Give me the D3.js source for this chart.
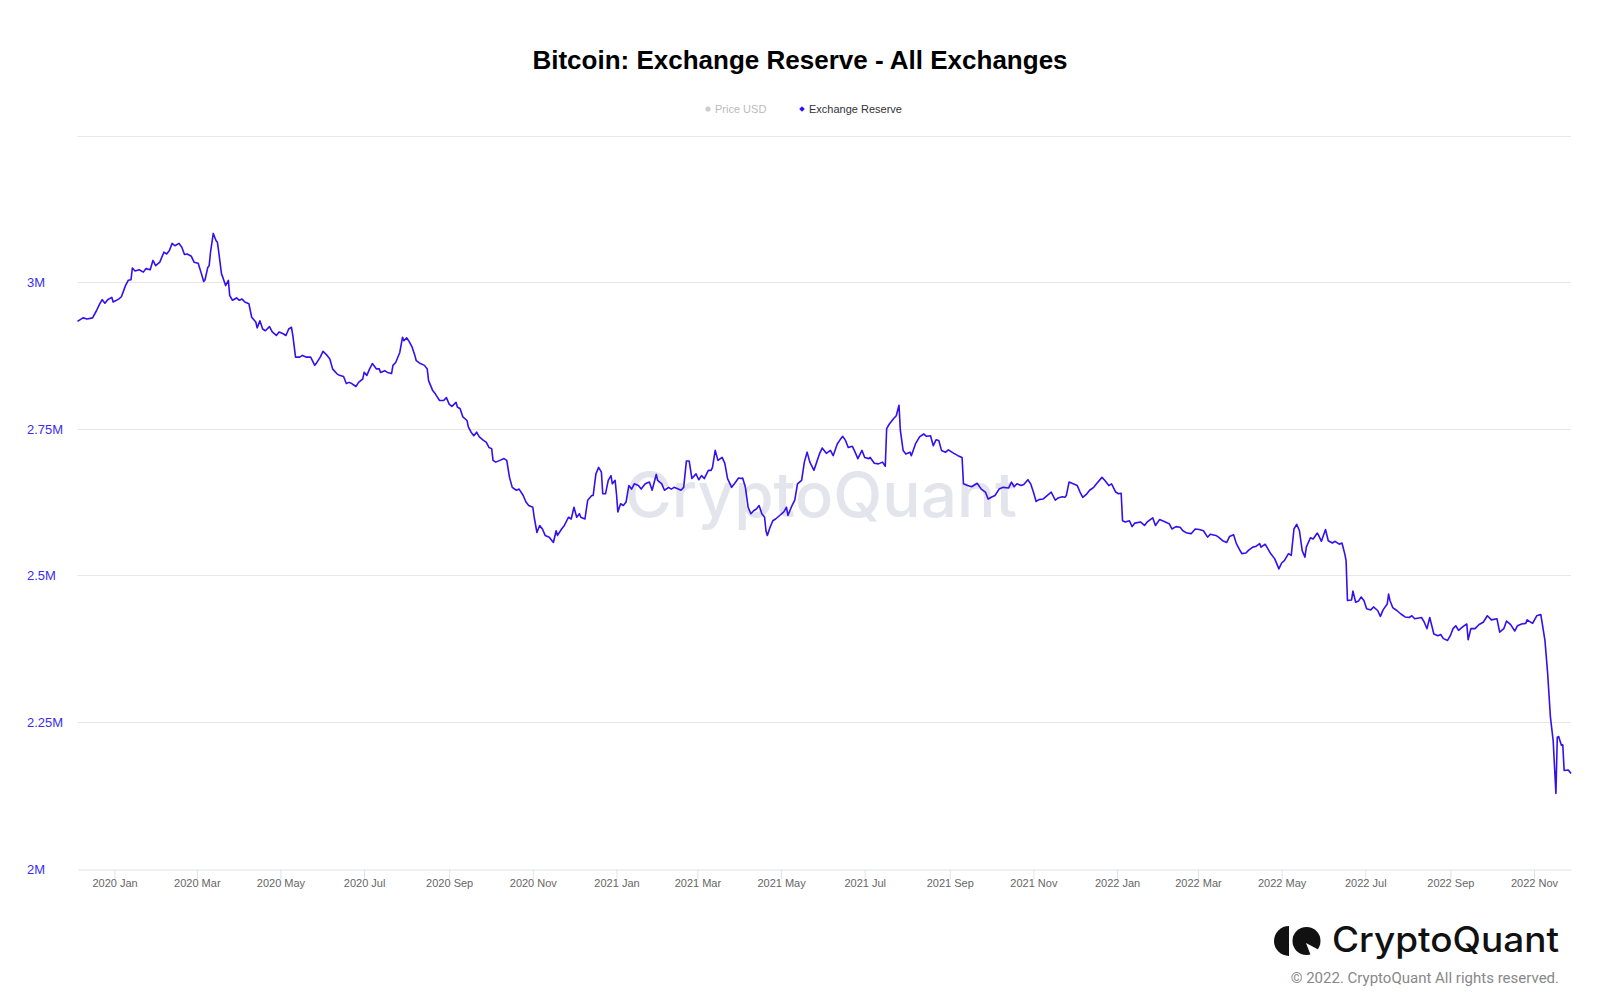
<!DOCTYPE html>
<html>
<head>
<meta charset="utf-8">
<script src="https://cdn.jsdelivr.net/npm/d3@7"></script>
<style>
	body { margin: 0; background: #fff; }
	svg { display: block; font-family: "Liberation Sans", Arial, Helvetica, sans-serif; }
</style>
</head>
<body>
<svg id="chart" width="1600" height="1008"></svg>
<script>
const width = 1600;
const height = 1008;
const margin = {
	top: 135.5,
	right: 29,
	bottom: 139.5,
	left: 77.5
};

// roughly every 2-3 days
const dates = [
	"2019-12-05", "2019-12-09", "2019-12-12", "2019-12-16", "2019-12-19", "2019-12-21", "2019-12-23", "2019-12-25", "2019-12-27", "2019-12-30", "2019-12-31",
	"2020-01-04", "2020-01-06", "2020-01-09", "2020-01-11", "2020-01-13", "2020-01-14", "2020-01-16", "2020-01-19", "2020-01-22", "2020-01-24", "2020-01-27", "2020-01-29", "2020-01-31",
	"2020-02-03", "2020-02-06", "2020-02-08", "2020-02-10", "2020-02-12", "2020-02-14", "2020-02-17", "2020-02-19", "2020-02-21", "2020-02-23", "2020-02-26", "2020-02-28",
	"2020-03-02", "2020-03-04", "2020-03-06", "2020-03-07", "2020-03-09", "2020-03-10", "2020-03-11", "2020-03-13", "2020-03-15", "2020-03-16", "2020-03-17", "2020-03-19", "2020-03-20", "2020-03-22", "2020-03-24", "2020-03-25", "2020-03-27", "2020-03-30",
	"2020-04-01", "2020-04-03", "2020-04-05", "2020-04-08", "2020-04-10", "2020-04-13", "2020-04-14", "2020-04-16", "2020-04-18", "2020-04-20", "2020-04-23", "2020-04-25", "2020-04-28", "2020-04-30",
	"2020-05-03", "2020-05-05", "2020-05-07", "2020-05-09", "2020-05-10", "2020-05-12", "2020-05-15", "2020-05-17", "2020-05-20", "2020-05-23", "2020-05-26", "2020-05-27", "2020-05-30",
	"2020-06-01", "2020-06-04", "2020-06-06", "2020-06-08", "2020-06-11", "2020-06-13", "2020-06-16", "2020-06-18", "2020-06-20", "2020-06-22", "2020-06-25", "2020-06-27", "2020-06-30",
	"2020-07-01", "2020-07-03", "2020-07-05", "2020-07-07", "2020-07-10", "2020-07-12", "2020-07-13", "2020-07-16", "2020-07-18", "2020-07-21", "2020-07-22", "2020-07-24", "2020-07-27", "2020-07-29", "2020-07-30",
	"2020-08-01", "2020-08-03", "2020-08-05", "2020-08-07", "2020-08-08", "2020-08-11", "2020-08-14", "2020-08-16", "2020-08-17", "2020-08-20", "2020-08-22", "2020-08-25", "2020-08-28", "2020-08-30",
	"2020-09-01", "2020-09-03", "2020-09-06", "2020-09-07", "2020-09-09", "2020-09-11", "2020-09-14", "2020-09-15", "2020-09-17", "2020-09-19", "2020-09-21", "2020-09-23", "2020-09-26", "2020-09-28", "2020-09-30",
	"2020-10-02", "2020-10-03", "2020-10-05", "2020-10-08", "2020-10-11", "2020-10-13", "2020-10-15", "2020-10-17", "2020-10-20", "2020-10-22", "2020-10-25", "2020-10-27", "2020-10-29",
	"2020-11-01", "2020-11-02", "2020-11-04", "2020-11-06", "2020-11-08", "2020-11-10", "2020-11-13", "2020-11-15", "2020-11-16", "2020-11-18", "2020-11-19", "2020-11-22", "2020-11-24", "2020-11-27", "2020-11-29",
	"2020-12-01", "2020-12-03", "2020-12-05", "2020-12-06", "2020-12-09", "2020-12-11", "2020-12-14", "2020-12-15", "2020-12-17", "2020-12-19", "2020-12-21", "2020-12-22", "2020-12-24", "2020-12-26", "2020-12-28", "2020-12-29", "2020-12-31",
	"2021-01-01", "2021-01-02", "2021-01-04", "2021-01-06", "2021-01-08", "2021-01-10", "2021-01-12", "2021-01-14", "2021-01-17", "2021-01-19", "2021-01-22", "2021-01-25", "2021-01-27", "2021-01-30", "2021-01-31",
	"2021-02-03", "2021-02-05", "2021-02-08", "2021-02-10", "2021-02-12", "2021-02-15", "2021-02-17", "2021-02-19", "2021-02-21", "2021-02-23", "2021-02-25", "2021-02-28",
	"2021-03-02", "2021-03-04", "2021-03-06", "2021-03-09", "2021-03-11", "2021-03-12", "2021-03-14", "2021-03-16", "2021-03-19", "2021-03-21", "2021-03-23", "2021-03-26", "2021-03-28", "2021-03-31",
	"2021-04-02", "2021-04-03", "2021-04-05", "2021-04-07", "2021-04-09", "2021-04-11", "2021-04-13", "2021-04-15", "2021-04-17", "2021-04-19", "2021-04-20", "2021-04-21", "2021-04-23", "2021-04-25", "2021-04-27", "2021-04-30",
	"2021-05-03", "2021-05-05", "2021-05-06", "2021-05-09", "2021-05-11", "2021-05-13", "2021-05-16", "2021-05-18", "2021-05-20", "2021-05-22", "2021-05-25", "2021-05-27", "2021-05-29", "2021-05-31",
	"2021-06-03", "2021-06-06", "2021-06-08", "2021-06-11", "2021-06-13", "2021-06-15", "2021-06-17", "2021-06-19", "2021-06-22", "2021-06-24", "2021-06-26", "2021-06-29",
	"2021-07-01", "2021-07-04", "2021-07-05", "2021-07-08", "2021-07-11", "2021-07-14", "2021-07-16", "2021-07-17", "2021-07-19", "2021-07-22", "2021-07-24", "2021-07-26", "2021-07-27", "2021-07-29", "2021-07-31",
	"2021-08-03", "2021-08-04", "2021-08-07", "2021-08-10", "2021-08-13", "2021-08-15", "2021-08-18", "2021-08-20", "2021-08-22", "2021-08-24", "2021-08-26", "2021-08-29", "2021-08-31",
	"2021-09-04", "2021-09-07", "2021-09-10", "2021-09-11", "2021-09-14", "2021-09-17", "2021-09-21", "2021-09-24", "2021-09-27", "2021-09-29",
	"2021-10-02", "2021-10-04", "2021-10-07", "2021-10-10", "2021-10-14", "2021-10-16", "2021-10-18", "2021-10-20", "2021-10-23", "2021-10-25", "2021-10-28", "2021-10-30",
	"2021-11-01", "2021-11-03", "2021-11-05", "2021-11-08", "2021-11-11", "2021-11-14", "2021-11-17", "2021-11-19", "2021-11-22", "2021-11-24", "2021-11-25", "2021-11-27", "2021-11-30",
	"2021-12-03", "2021-12-05", "2021-12-07", "2021-12-10", "2021-12-12", "2021-12-15", "2021-12-17", "2021-12-21", "2021-12-23", "2021-12-26", "2021-12-28", "2021-12-31",
	"2022-01-02", "2022-01-04", "2022-01-05", "2022-01-07", "2022-01-10", "2022-01-12", "2022-01-14", "2022-01-18", "2022-01-21", "2022-01-23", "2022-01-27", "2022-01-29",
	"2022-02-01", "2022-02-04", "2022-02-08", "2022-02-10", "2022-02-13", "2022-02-16", "2022-02-18", "2022-02-21", "2022-02-24", "2022-02-27",
	"2022-03-02", "2022-03-05", "2022-03-08", "2022-03-10", "2022-03-14", "2022-03-16", "2022-03-19", "2022-03-22", "2022-03-24", "2022-03-27", "2022-03-29",
	"2022-04-01", "2022-04-02", "2022-04-05", "2022-04-07", "2022-04-10", "2022-04-12", "2022-04-15", "2022-04-16", "2022-04-19", "2022-04-21", "2022-04-23", "2022-04-26", "2022-04-29",
	"2022-05-01", "2022-05-03", "2022-05-06", "2022-05-08", "2022-05-10", "2022-05-12", "2022-05-14", "2022-05-16", "2022-05-18", "2022-05-19", "2022-05-22", "2022-05-24", "2022-05-27", "2022-05-28", "2022-05-30",
	"2022-06-02", "2022-06-04", "2022-06-07", "2022-06-09", "2022-06-12", "2022-06-14", "2022-06-16", "2022-06-17", "2022-06-18", "2022-06-21", "2022-06-22", "2022-06-24", "2022-06-26", "2022-06-28", "2022-06-30",
	"2022-07-02", "2022-07-05", "2022-07-07", "2022-07-10", "2022-07-12", "2022-07-14", "2022-07-17", "2022-07-18", "2022-07-19", "2022-07-21", "2022-07-24", "2022-07-27", "2022-07-30",
	"2022-08-02", "2022-08-04", "2022-08-06", "2022-08-11", "2022-08-13", "2022-08-15", "2022-08-17", "2022-08-20", "2022-08-23", "2022-08-25", "2022-08-27", "2022-08-30",
	"2022-09-01", "2022-09-03", "2022-09-05", "2022-09-07", "2022-09-10", "2022-09-13", "2022-09-14", "2022-09-16", "2022-09-19", "2022-09-22", "2022-09-25", "2022-09-28",
	"2022-10-01", "2022-10-05", "2022-10-07", "2022-10-10", "2022-10-12", "2022-10-15", "2022-10-18", "2022-10-20", "2022-10-23", "2022-10-26", "2022-10-27", "2022-10-31",
	"2022-11-03", "2022-11-06", "2022-11-09", "2022-11-11", "2022-11-13", "2022-11-15", "2022-11-17", "2022-11-18", "2022-11-19", "2022-11-21", "2022-11-22", "2022-11-23", "2022-11-26", "2022-11-28"
];

// exchange reserve, thousands of BTC
const reserveK = [
	2933, 2939, 2937, 2939, 2952, 2962, 2970, 2964, 2970, 2974, 2966,
	2971, 2975, 2994, 3003, 3004, 3024, 3019, 3021, 3017, 3023, 3021, 3037, 3028,
	3034, 3051, 3048, 3054, 3066, 3062, 3066, 3060, 3047, 3048, 3044, 3034,
	3032, 3017, 3001, 3004, 3025, 3028, 3051, 3083, 3071, 3068, 3051, 3014, 3008, 2994, 3003, 2977, 2969, 2973,
	2969, 2971, 2966, 2963, 2940, 2932, 2922, 2934, 2920, 2917, 2924, 2915, 2909, 2915,
	2912, 2909, 2920, 2923, 2909, 2872, 2872, 2875, 2872, 2872, 2858, 2861, 2872,
	2882, 2875, 2869, 2852, 2844, 2841, 2839, 2827, 2829, 2827, 2822, 2829, 2835,
	2846, 2841, 2852, 2861, 2852, 2852, 2846, 2849, 2846, 2844, 2858, 2863, 2880, 2906, 2900,
	2905, 2898, 2889, 2875, 2866, 2861, 2858, 2852, 2832, 2815, 2809, 2798, 2798, 2803,
	2792, 2788, 2795, 2787, 2784, 2770, 2764, 2753, 2744, 2738, 2744, 2736, 2730, 2727, 2718,
	2716, 2696, 2693, 2696, 2699, 2696, 2667, 2650, 2645, 2647, 2636, 2625, 2619,
	2616, 2599, 2573, 2585, 2579, 2568, 2565, 2559, 2556, 2576, 2568, 2579, 2585, 2599, 2596,
	2616, 2599, 2605, 2599, 2596, 2628, 2636, 2636, 2673, 2684, 2676, 2639, 2639, 2662, 2670, 2656, 2662,
	2639, 2608, 2622, 2619, 2625, 2653, 2647, 2656, 2653, 2647, 2656, 2659, 2645, 2672, 2662,
	2656, 2645, 2650, 2647, 2650, 2647, 2645, 2650, 2695, 2695, 2665, 2673,
	2663, 2670, 2665, 2679, 2679, 2684, 2713, 2696, 2701, 2691, 2665, 2650, 2656, 2666,
	2665, 2666, 2650, 2616, 2605, 2610, 2613, 2619, 2605, 2599, 2576, 2568, 2582, 2593, 2596, 2602,
	2608, 2616, 2602, 2619, 2628, 2656, 2662, 2693, 2710, 2693, 2679, 2693, 2707, 2717,
	2708, 2713, 2704, 2724, 2731, 2737, 2730, 2718, 2720, 2710, 2699, 2713,
	2701, 2699, 2701, 2691, 2690, 2693, 2686, 2750, 2758, 2767, 2772, 2790, 2747, 2713, 2707,
	2710, 2704, 2724, 2736, 2741, 2737, 2738, 2721, 2731, 2730, 2713, 2710, 2714,
	2708, 2704, 2701, 2656, 2653, 2651, 2657, 2647, 2642, 2630,
	2634, 2636, 2647, 2650, 2649, 2659, 2651, 2656, 2653, 2655, 2663, 2656,
	2642, 2626, 2629, 2630, 2636, 2642, 2628, 2632, 2634, 2633, 2636, 2659, 2656,
	2653, 2642, 2633, 2639, 2645, 2650, 2656, 2667, 2662, 2653, 2656, 2642,
	2639, 2640, 2593, 2591, 2593, 2583, 2589, 2591, 2585, 2591, 2598, 2585,
	2595, 2592, 2588, 2579, 2583, 2582, 2576, 2572, 2571, 2579,
	2578, 2576, 2565, 2570, 2568, 2565, 2559, 2556, 2566, 2569, 2554,
	2541, 2537, 2538, 2543, 2548, 2549, 2554, 2548, 2553, 2545, 2537, 2528, 2511,
	2521, 2525, 2537, 2534, 2579, 2587, 2576, 2542, 2531, 2548, 2564, 2562, 2572, 2568, 2558,
	2578, 2559, 2555, 2558, 2553, 2555, 2537, 2525, 2457, 2458, 2473, 2454, 2456, 2463, 2457,
	2443, 2441, 2446, 2440, 2430, 2441, 2451, 2468, 2457, 2445, 2440, 2434, 2429,
	2428, 2431, 2426, 2428, 2420, 2409, 2428, 2400, 2397, 2399, 2392, 2389,
	2397, 2409, 2414, 2406, 2412, 2417, 2390, 2409, 2409, 2416, 2420, 2431,
	2424, 2426, 2403, 2409, 2422, 2416, 2405, 2414, 2417, 2418, 2424, 2418,
	2431, 2433, 2389, 2332, 2258, 2218, 2128, 2224, 2225, 2210, 2211, 2167, 2168, 2162
];

const yTicks = [2000000, 2250000, 2500000, 2750000, 3000000, 3250000];
const yTickLabels = ["2M", "2.25M", "2.5M", "2.75M", "3M", ""];
const legendNames = ["Price USD", "Exchange Reserve"];

const lineColor = "#3510ee";
const parseDate = d3.utcParse("%Y-%m-%d");

const data = dates.map((d, i) => ({ date: parseDate(d), value: reserveK[i] * 1000 }));

const svg = d3.select("#chart");

const x = d3.scaleUtc()
	.domain(d3.extent(data, (d) => d.date))
	.range([margin.left, width - margin.right]);

const y = d3.scaleLinear()
	.domain([2000000, 3250000])
	.range([height - margin.bottom, margin.top]);

// title
svg.append("text")
	.attr("x", 800)
	.attr("y", 69)
	.attr("text-anchor", "middle")
	.style("font-size", "26px")
	.style("font-weight", "bold")
	.attr("fill", "#000")
	.text("Bitcoin: Exchange Reserve - All Exchanges");

// legend
const legend = svg.append("g")
	.attr("transform", "translate(0, 109)");

legend.append("circle")
	.attr("cx", 708)
	.attr("cy", 0)
	.attr("r", 2.6)
	.attr("fill", "#cccccc");

legend.append("text")
	.attr("x", 715)
	.attr("y", 4)
	.style("font-size", "11px")
	.attr("fill", "#bbbbbb")
	.text(legendNames[0]);

legend.append("path")
	.attr("d", d3.symbol(d3.symbolSquare, 16)())
	.attr("transform", "translate(802, 0) rotate(45)")
	.attr("fill", lineColor);

legend.append("text")
	.attr("x", 809)
	.attr("y", 4)
	.style("font-size", "11px")
	.attr("fill", "#333333")
	.text(legendNames[1]);

// gridlines
svg.append("g")
	.selectAll("line")
	.data(yTicks.slice(1))
	.join("line")
	.attr("x1", margin.left)
	.attr("x2", width - margin.right)
	.attr("y1", (d) => Math.round(y(d)) + 0.5)
	.attr("y2", (d) => Math.round(y(d)) + 0.5)
	.attr("stroke", "#e6e6e6")
	.attr("stroke-width", 1);

// y labels
svg.append("g")
	.selectAll("text")
	.data(yTicks)
	.join("text")
	.attr("x", 27)
	.attr("y", (d) => y(d) + 5)
	.style("font-size", "13px")
	.attr("fill", "#3c2cf2")
	.text((d, i) => yTickLabels[i]);

// watermark
svg.append("text")
	.attr("x", 821)
	.attr("y", 517)
	.attr("text-anchor", "middle")
	.attr("textLength", 392)
	.attr("lengthAdjust", "spacingAndGlyphs")
	.style("font-family", "Inter, 'Noto Sans', sans-serif")
	.style("font-size", "62px")
	.style("font-weight", 500)
	.attr("fill", "#e4e4ec")
	.text("CryptoQuant");

// x axis
const xAxis = d3.axisBottom(x)
	.ticks(d3.utcMonth.every(2))
	.tickFormat(d3.utcFormat("%Y %b"))
	.tickSize(10)
	.tickSizeOuter(0);

const xAxisGroup = svg.append("g")
	.attr("transform", `translate(0, ${Math.round(y(2000000)) + 0.5})`)
	.call(xAxis);

xAxisGroup.select(".domain")
	.attr("stroke", "#dfe3ea");
xAxisGroup.selectAll(".tick line")
	.attr("stroke", "#dfe3ea");
xAxisGroup.selectAll(".tick text")
	.attr("dy", "0.9em")
	.attr("y", 8)
	.style("font-family", "'Liberation Sans', Arial, sans-serif")
	.style("font-size", "11px")
	.attr("fill", "#666666");

// reserve line
const line = d3.line()
	.x((d) => x(d.date))
	.y((d) => y(d.value));

svg.append("path")
	.datum(data)
	.attr("d", line)
	.attr("fill", "none")
	.attr("stroke", lineColor)
	.attr("stroke-width", 1.6)
	.attr("stroke-linejoin", "round");

// logo
const logo = svg.append("g");

logo.append("path")
	.attr("d", d3.arc()({ innerRadius: 0, outerRadius: 15, startAngle: Math.PI, endAngle: 2 * Math.PI }))
	.attr("transform", "translate(1289, 941)")
	.attr("fill", "#111");

logo.append("circle")
	.attr("cx", 1306.5)
	.attr("cy", 941)
	.attr("r", 14)
	.attr("fill", "#111");

logo.append("path")
	.attr("d", "M1306,943 L1321,951 L1321,956 L1311,956 Z")
	.attr("fill", "#fff");

logo.append("text")
	.attr("x", 1332)
	.attr("y", 952)
	.attr("textLength", 227)
	.attr("lengthAdjust", "spacingAndGlyphs")
	.style("font-family", "Inter, 'Noto Sans', sans-serif")
	.style("font-size", "35px")
	.style("font-weight", 500)
	.attr("fill", "#111")
	.text("CryptoQuant");

svg.append("text")
	.attr("x", 1559)
	.attr("y", 983)
	.attr("text-anchor", "end")
	.style("font-family", "Roboto, 'Noto Sans', sans-serif")
	.style("font-size", "15px")
	.attr("fill", "#888888")
	.text("© 2022. CryptoQuant All rights reserved.");
</script>
</body>
</html>
